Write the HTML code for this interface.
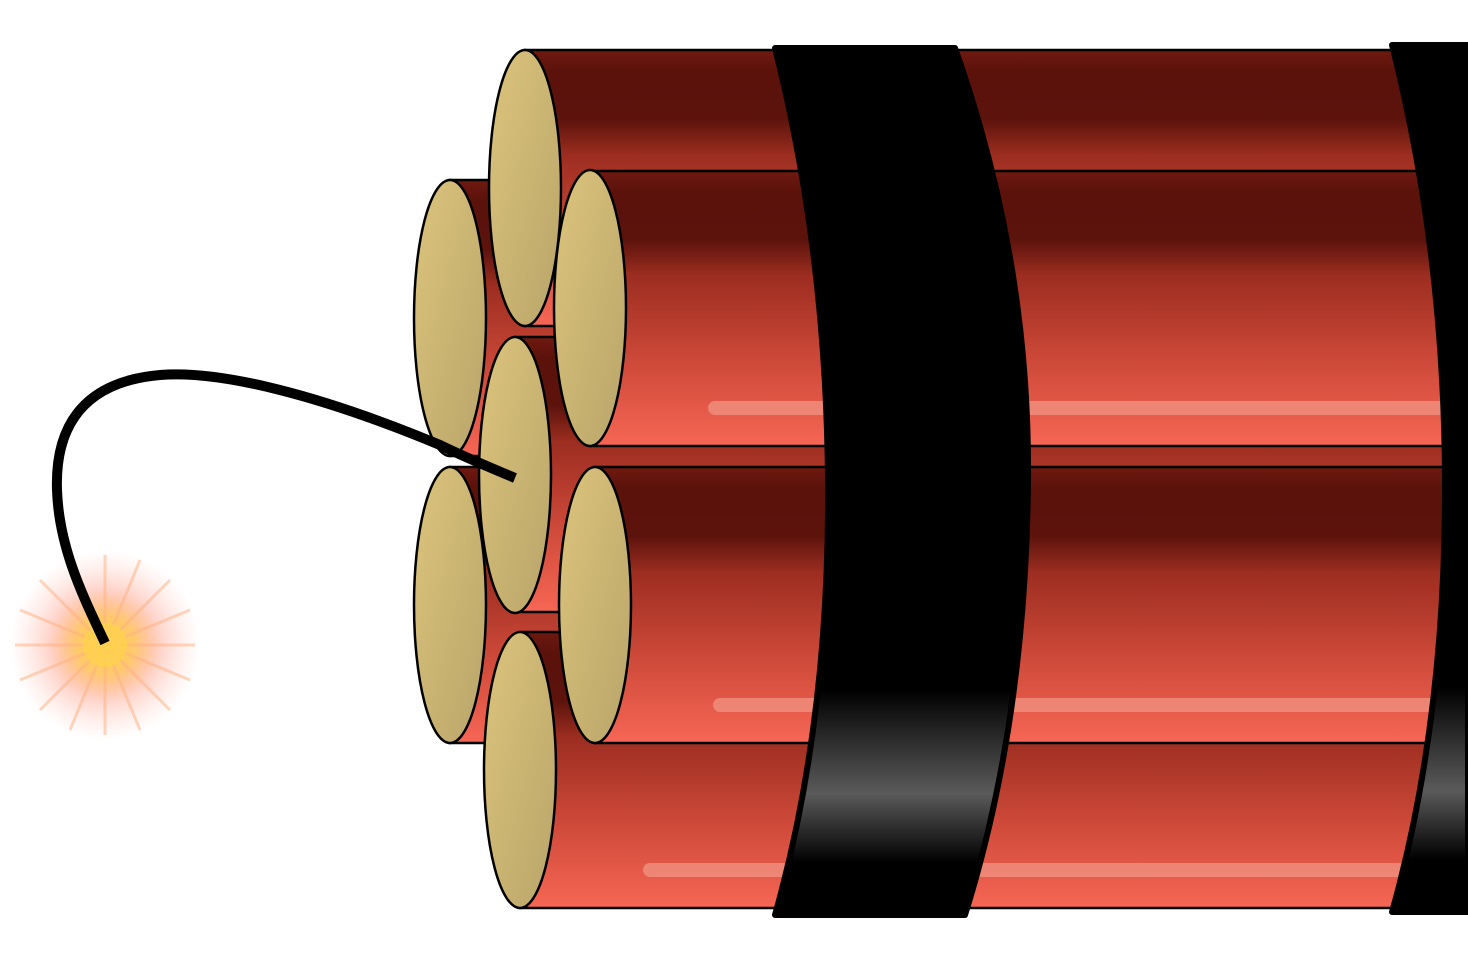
<!DOCTYPE html>
<html><head><style>html,body{margin:0;padding:0;background:#fff;overflow:hidden}</style></head>
<body>
<svg width="1468" height="958" viewBox="0 0 1468 958" xmlns="http://www.w3.org/2000/svg">
<defs>
<linearGradient id="body" x1="0" y1="0" x2="0" y2="1">
<stop offset="0" stop-color="#701910"/>
<stop offset="0.08" stop-color="#5a120b"/>
<stop offset="0.25" stop-color="#5c130c"/>
<stop offset="0.38" stop-color="#9c2d20"/>
<stop offset="0.7" stop-color="#cf4a3a"/>
<stop offset="1" stop-color="#f66654"/>
</linearGradient>
<linearGradient id="cap" x1="0" y1="0" x2="1" y2="1">
<stop offset="0" stop-color="#dcc47c"/>
<stop offset="1" stop-color="#b9a56a"/>
</linearGradient>
<linearGradient id="band" x1="0" y1="0" x2="0" y2="1">
<stop offset="0" stop-color="#000"/>
<stop offset="0.74" stop-color="#000"/>
<stop offset="0.86" stop-color="#5a5a5a"/>
<stop offset="0.94" stop-color="#000"/>
<stop offset="1" stop-color="#000"/>
</linearGradient>
<radialGradient id="spark" cx="0.5" cy="0.5" r="0.5">
<stop offset="0" stop-color="#ffd24a"/>
<stop offset="0.3" stop-color="#ffc35a" stop-opacity="0.9"/>
<stop offset="0.6" stop-color="#ff8a70" stop-opacity="0.35"/>
<stop offset="1" stop-color="#ffb0a0" stop-opacity="0"/>
</radialGradient>
</defs>

<rect x="450" y="180" width="1100" height="276" fill="url(#body)" stroke="#000" stroke-width="2.5"/>
<ellipse cx="450" cy="318" rx="36" ry="138" fill="url(#cap)" stroke="#000" stroke-width="2.5"/>
<rect x="450" y="467" width="1100" height="276" fill="url(#body)" stroke="#000" stroke-width="2.5"/>
<ellipse cx="450" cy="605" rx="36" ry="138" fill="url(#cap)" stroke="#000" stroke-width="2.5"/>

<rect x="525" y="50" width="1100" height="276" fill="url(#body)" stroke="#000" stroke-width="2.5"/>
<ellipse cx="525" cy="188" rx="36" ry="138" fill="url(#cap)" stroke="#000" stroke-width="2.5"/>
<rect x="515" y="337" width="1100" height="275" fill="url(#body)" stroke="#000" stroke-width="2.5"/>
<ellipse cx="515" cy="475" rx="36" ry="138" fill="url(#cap)" stroke="#000" stroke-width="2.5"/>
<rect x="520" y="632" width="1100" height="276" fill="url(#body)" stroke="#000" stroke-width="2.5"/>
<ellipse cx="520" cy="770" rx="36" ry="138" fill="url(#cap)" stroke="#000" stroke-width="2.5"/>

<rect x="590" y="171" width="1100" height="275" fill="url(#body)" stroke="#000" stroke-width="2.5"/>
<ellipse cx="590" cy="308" rx="36" ry="138" fill="url(#cap)" stroke="#000" stroke-width="2.5"/>
<rect x="595" y="467" width="1100" height="276" fill="url(#body)" stroke="#000" stroke-width="2.5"/>
<ellipse cx="595" cy="605" rx="36" ry="138" fill="url(#cap)" stroke="#000" stroke-width="2.5"/>

<g stroke="#f09080" stroke-width="14" stroke-linecap="round" opacity="0.8">
<line x1="715" y1="408" x2="1440" y2="408"/>
<line x1="720" y1="705" x2="1440" y2="705"/>
<line x1="650" y1="870" x2="1440" y2="870"/>
</g>

<path d="M775,48 L955,48 Q1030,260 1028,480 Q1026,720 965,915 L775,915 Q830,720 828,480 Q826,250 775,48 Z" fill="url(#band)" stroke="#000" stroke-width="6" stroke-linejoin="round"/>
<path d="M1392,45 L1468,45 L1468,912 L1392,912 Q1446,720 1445,480 Q1444,250 1392,45 Z" fill="url(#band)" stroke="#000" stroke-width="6" stroke-linejoin="round"/>

<circle cx="105" cy="645" r="95" fill="url(#spark)"/>
<g stroke="#ffb080" stroke-width="3" opacity="0.5">
<line x1="105" y1="555" x2="105" y2="735"/><line x1="15" y1="645" x2="195" y2="645"/>
<line x1="40" y1="580" x2="170" y2="710"/><line x1="40" y1="710" x2="170" y2="580"/>
<line x1="70" y1="560" x2="140" y2="730"/><line x1="140" y1="560" x2="70" y2="730"/>
<line x1="20" y1="610" x2="190" y2="680"/><line x1="20" y1="680" x2="190" y2="610"/>
</g>
<circle cx="105" cy="645" r="22" fill="#ffd050" opacity="0.9"/>

<path d="M515,478 Q460,455 440,445 C320,395 220,370 160,375 C80,382 55,430 57,490 C59,550 85,600 105,643" fill="none" stroke="#000" stroke-width="10"/>
</svg>
</body></html>
